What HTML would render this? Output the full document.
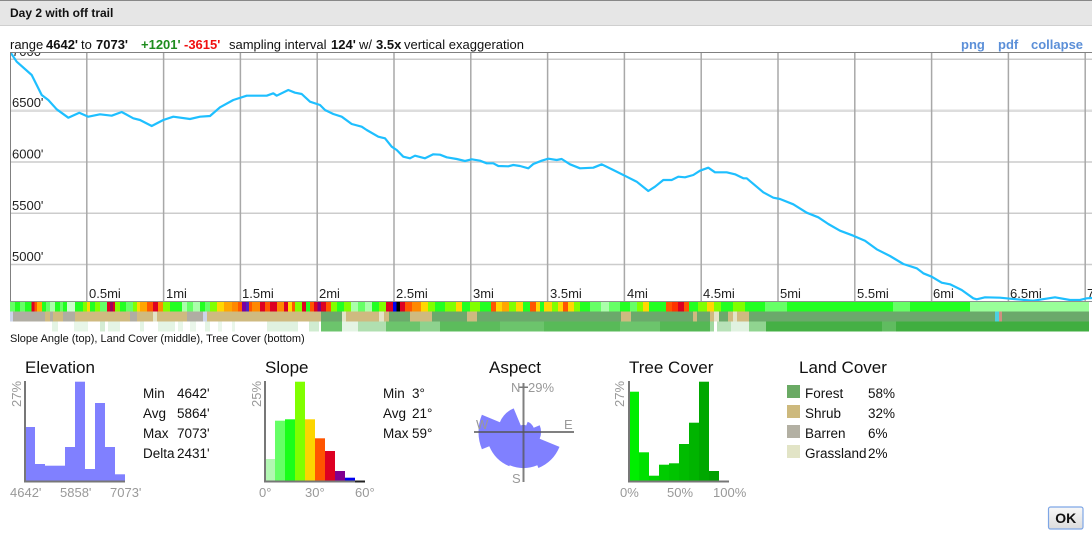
<!DOCTYPE html>
<html><head><meta charset="utf-8">
<style>
html,body{margin:0;padding:0;background:#fff;}
body{width:1092px;height:538px;overflow:hidden;position:relative;font-family:"Liberation Sans",sans-serif;}
svg{position:absolute;left:0;top:0;}
text{font-family:"Liberation Sans",sans-serif;}
</style></head><body>
<svg width="1092" height="538" viewBox="0 0 1092 538" xmlns="http://www.w3.org/2000/svg">
<defs>
<clipPath id="cc"><rect x="10" y="52" width="1082" height="249.5"/></clipPath>
<linearGradient id="okg" x1="0" y1="0" x2="0" y2="1"><stop offset="0" stop-color="#f8f8f8"/><stop offset="1" stop-color="#dcdcdc"/></linearGradient>
</defs>
<!-- header -->
<rect x="0" y="0" width="1092" height="25" fill="#e6e6e6"/>
<rect x="0" y="0" width="1092" height="1" fill="#888"/>
<rect x="0" y="25" width="1092" height="1" fill="#cfcfcf"/>
<text x="10" y="17" font-size="12" font-weight="bold" fill="#111">Day 2 with off trail</text>

<!-- range line -->
<text y="49" font-size="13" fill="#111">
<tspan x="10">range</tspan><tspan x="46" font-weight="bold">4642'</tspan><tspan x="81">to</tspan><tspan x="96" font-weight="bold">7073'</tspan><tspan x="141" font-weight="bold" fill="#1e8c1e">+1201'</tspan><tspan x="184" font-weight="bold" fill="#f01010">-3615'</tspan><tspan x="229">sampling interval</tspan><tspan x="331" font-weight="bold">124'</tspan><tspan x="359">w/</tspan><tspan x="376" font-weight="bold">3.5x</tspan><tspan x="404">vertical exaggeration</tspan>
</text>
<text y="49" font-size="13" font-weight="bold" fill="#5b8fd8"><tspan x="961">png</tspan><tspan x="998">pdf</tspan><tspan x="1031">collapse</tspan></text>

<!-- chart -->
<g clip-path="url(#cc)">
<g stroke="#cccccc" stroke-width="1.5">
<line x1="10" y1="59.3" x2="1092" y2="59.3"/>
<line x1="10" y1="162" x2="1092" y2="162"/>
<line x1="10" y1="213.3" x2="1092" y2="213.3"/>
<line x1="10" y1="264.5" x2="1092" y2="264.5"/>
</g>
<line x1="10" y1="110.7" x2="1092" y2="110.7" stroke="#dddddd" stroke-width="2.5"/>
<g stroke="#a8a8a8" stroke-width="1.5">
<line x1="86.8" y1="52" x2="86.8" y2="301"/>
<line x1="163.6" y1="52" x2="163.6" y2="301"/>
<line x1="240.4" y1="52" x2="240.4" y2="301"/>
<line x1="317.2" y1="52" x2="317.2" y2="301"/>
<line x1="394" y1="52" x2="394" y2="301"/>
<line x1="470.8" y1="52" x2="470.8" y2="301"/>
<line x1="547.6" y1="52" x2="547.6" y2="301"/>
<line x1="624.4" y1="52" x2="624.4" y2="301"/>
<line x1="701.2" y1="52" x2="701.2" y2="301"/>
<line x1="778" y1="52" x2="778" y2="301"/>
<line x1="854.8" y1="52" x2="854.8" y2="301"/>
<line x1="931.6" y1="52" x2="931.6" y2="301"/>
<line x1="1008.4" y1="52" x2="1008.4" y2="301"/>
<line x1="1085.2" y1="52" x2="1085.2" y2="301"/>
</g>
<g font-size="13" fill="#222">
<text x="12" y="56">7000'</text>
<text x="12" y="107">6500'</text>
<text x="12" y="158.5">6000'</text>
<text x="12" y="210">5500'</text>
<text x="12" y="261">5000'</text>
<text x="89" y="298">0.5mi</text>
<text x="166" y="298">1mi</text>
<text x="242" y="298">1.5mi</text>
<text x="319" y="298">2mi</text>
<text x="396" y="298">2.5mi</text>
<text x="473" y="298">3mi</text>
<text x="550" y="298">3.5mi</text>
<text x="627" y="298">4mi</text>
<text x="703" y="298">4.5mi</text>
<text x="780" y="298">5mi</text>
<text x="857" y="298">5.5mi</text>
<text x="933" y="298">6mi</text>
<text x="1010" y="298">6.5mi</text>
<text x="1087" y="298">7mi</text>
</g>
<polyline fill="none" stroke="#1ebfff" stroke-width="2.2" stroke-linejoin="round" points="10,51.7 16.7,61.7 31.7,75 41.7,95 48.3,100 56.7,109.3 68.3,117.7 79.3,112.7 88.3,116.7 100,114.3 111.7,115.7 121.7,112 133.3,118.3 140,120 151.7,126 163.3,120 173.3,116.7 190,119 200,116.7 210,116 220,107.3 233.3,100 246.7,95.7 266.7,95.7 273.3,93.3 276.7,95.7 288.3,90 295,92.7 301.7,94 310,101.7 320,105 325,110 333.3,114 341.7,116.7 351.7,124 361.7,126.7 366.7,130 378.3,136.7 385,138.3 391.7,146.7 396.7,150 403.3,156.7 410,158.3 415,155.7 425,158.3 433.3,154.3 440,154.7 446.7,157.3 456.7,159 465,161 471.7,159.3 480,160.7 486.7,163.3 493.3,163.3 498.3,166 508.3,166.3 513.3,165 520,166 528.3,168.3 533.3,164 541.7,160.7 548.3,158.7 556.7,160 561.7,159 570,164.3 580,168.3 593.3,167.7 601.7,164.3 613.3,170 626.7,176.7 636.7,181.7 648.3,191 655,186.7 663.3,180 671.7,180 678.3,176.7 685,177.3 693.3,175 700,170.7 708.3,167.7 715,172.3 726.7,172.3 735,174.3 743.3,178.3 746.7,178.3 763.3,192.3 773.3,197.7 780,199 793.3,204.3 806.7,212.7 818.3,217.3 828.3,224 840,230.7 853.3,235.7 865,240.7 876.7,249.3 890,256 903.3,264 916.7,268.3 923.3,273.3 931.7,276.7 941.7,282.7 950,284.3 961.7,290 973.3,298.3 976.7,299.3 985,297.3 1000,297.7 1016.7,299.3 1033.3,300.7 1055,297.3 1070,300 1080,300 1086.7,298.3 1092,298"/>
</g>
<rect x="10" y="52" width="1082" height="1" fill="#808080"/>
<rect x="10" y="52" width="1" height="250" fill="#808080"/>
<rect x="10" y="301" width="1082" height="1" fill="#909090"/>

<!-- slope strip -->
<g transform="translate(0,302)">
<rect x="10" width="5" height="9.5" fill="#66ff66"/><rect x="15" width="5" height="9.5" fill="#22ff22"/><rect x="20" width="5" height="9.5" fill="#66ff66"/><rect x="25" width="6.5" height="9.5" fill="#22ff22"/><rect x="31.5" width="3" height="9.5" fill="#dd0022"/><rect x="34.5" width="2.5" height="9.5" fill="#ff5500"/><rect x="37" width="5" height="9.5" fill="#ffb000"/><rect x="42" width="4" height="9.5" fill="#22ff22"/><rect x="46" width="4" height="9.5" fill="#66ff66"/><rect x="50" width="5" height="9.5" fill="#aaffaa"/><rect x="55" width="5" height="9.5" fill="#22ff22"/><rect x="60" width="3" height="9.5" fill="#66ff66"/><rect x="63" width="4" height="9.5" fill="#22ff22"/><rect x="67" width="8" height="9.5" fill="#ccffcc"/><rect x="75" width="8" height="9.5" fill="#22ff22"/><rect x="83" width="4" height="9.5" fill="#80ff00"/><rect x="87" width="3" height="9.5" fill="#ffd700"/><rect x="90" width="5" height="9.5" fill="#22ff22"/><rect x="95" width="5" height="9.5" fill="#80ff00"/><rect x="100" width="7" height="9.5" fill="#66ff66"/><rect x="107" width="3" height="9.5" fill="#dd0022"/><rect x="110" width="3" height="9.5" fill="#a0005a"/><rect x="113" width="2" height="9.5" fill="#dd0022"/><rect x="115" width="5" height="9.5" fill="#80ff00"/><rect x="120" width="6" height="9.5" fill="#22ff22"/><rect x="126" width="7" height="9.5" fill="#66ff66"/><rect x="133" width="4" height="9.5" fill="#80ff00"/><rect x="137" width="3" height="9.5" fill="#ffd700"/><rect x="140" width="7" height="9.5" fill="#ffa500"/><rect x="147" width="6" height="9.5" fill="#ff5500"/><rect x="153" width="5" height="9.5" fill="#dd0022"/><rect x="158" width="5" height="9.5" fill="#ff8800"/><rect x="163" width="7" height="9.5" fill="#80ff00"/><rect x="170" width="12" height="9.5" fill="#22ff22"/><rect x="182" width="5" height="9.5" fill="#aaffaa"/><rect x="187" width="6" height="9.5" fill="#66ff66"/><rect x="193" width="7" height="9.5" fill="#aaffaa"/><rect x="200" width="5" height="9.5" fill="#22ff22"/><rect x="205" width="5" height="9.5" fill="#66ff66"/><rect x="210" width="7" height="9.5" fill="#80ff00"/><rect x="217" width="7" height="9.5" fill="#ffd700"/><rect x="224" width="8" height="9.5" fill="#ffa500"/><rect x="232" width="6" height="9.5" fill="#ff8800"/><rect x="238" width="4" height="9.5" fill="#ff5500"/><rect x="242" width="4" height="9.5" fill="#7a00a0"/><rect x="246" width="3" height="9.5" fill="#5020c0"/><rect x="249" width="3" height="9.5" fill="#ff5500"/><rect x="252" width="8" height="9.5" fill="#ff8800"/><rect x="260" width="5" height="9.5" fill="#dd0022"/><rect x="265" width="5" height="9.5" fill="#ff5500"/><rect x="270" width="7" height="9.5" fill="#dd0022"/><rect x="277" width="7" height="9.5" fill="#ff8800"/><rect x="284" width="4" height="9.5" fill="#dd0022"/><rect x="288" width="4" height="9.5" fill="#ffd700"/><rect x="292" width="3" height="9.5" fill="#ff5500"/><rect x="295" width="7" height="9.5" fill="#80ff00"/><rect x="302" width="4" height="9.5" fill="#dd0022"/><rect x="306" width="4" height="9.5" fill="#22ff22"/><rect x="310" width="4" height="9.5" fill="#ff5500"/><rect x="314" width="3.5" height="9.5" fill="#dd0022"/><rect x="317.5" width="3.5" height="9.5" fill="#800080"/><rect x="321" width="5" height="9.5" fill="#dd0022"/><rect x="326" width="5" height="9.5" fill="#ff5500"/><rect x="331" width="6" height="9.5" fill="#80ff00"/><rect x="337" width="7" height="9.5" fill="#22ff22"/><rect x="344" width="7" height="9.5" fill="#80ff00"/><rect x="351" width="7" height="9.5" fill="#aaffaa"/><rect x="358" width="7" height="9.5" fill="#66ff66"/><rect x="365" width="7" height="9.5" fill="#aaffaa"/><rect x="372" width="7" height="9.5" fill="#22ff22"/><rect x="379" width="7" height="9.5" fill="#80ff00"/><rect x="386" width="7" height="9.5" fill="#dd0022"/><rect x="393" width="3.5" height="9.5" fill="#0000ee"/><rect x="396.5" width="3.5" height="9.5" fill="#000000"/><rect x="400" width="5" height="9.5" fill="#dd0022"/><rect x="405" width="7" height="9.5" fill="#ff5500"/><rect x="412" width="9" height="9.5" fill="#ff8800"/><rect x="421" width="7" height="9.5" fill="#ffd700"/><rect x="428" width="7" height="9.5" fill="#80ff00"/><rect x="435" width="10" height="9.5" fill="#22ff22"/><rect x="445" width="11" height="9.5" fill="#80ff00"/><rect x="456" width="6" height="9.5" fill="#ffd700"/><rect x="462" width="8" height="9.5" fill="#22ff22"/><rect x="470" width="10" height="9.5" fill="#80ff00"/><rect x="480" width="11" height="9.5" fill="#22ff22"/><rect x="491" width="5" height="9.5" fill="#ff5500"/><rect x="496" width="6" height="9.5" fill="#ffd700"/><rect x="502" width="7" height="9.5" fill="#ffa500"/><rect x="509" width="7" height="9.5" fill="#80ff00"/><rect x="516" width="7" height="9.5" fill="#ffd700"/><rect x="523" width="7" height="9.5" fill="#22ff22"/><rect x="530" width="6" height="9.5" fill="#ff5500"/><rect x="536" width="4" height="9.5" fill="#ffd700"/><rect x="540" width="4" height="9.5" fill="#22ff22"/><rect x="544" width="8" height="9.5" fill="#ffd700"/><rect x="552" width="6" height="9.5" fill="#80ff00"/><rect x="558" width="5" height="9.5" fill="#ffd700"/><rect x="563" width="5" height="9.5" fill="#ff5500"/><rect x="568" width="6" height="9.5" fill="#ffd700"/><rect x="574" width="6" height="9.5" fill="#80ff00"/><rect x="580" width="10" height="9.5" fill="#22ff22"/><rect x="590" width="11" height="9.5" fill="#66ff66"/><rect x="601" width="8" height="9.5" fill="#aaffaa"/><rect x="609" width="11" height="9.5" fill="#66ff66"/><rect x="620" width="10" height="9.5" fill="#22ff22"/><rect x="630" width="7" height="9.5" fill="#66ff66"/><rect x="637" width="6" height="9.5" fill="#80ff00"/><rect x="643" width="6" height="9.5" fill="#ffd700"/><rect x="649" width="17" height="9.5" fill="#22ff22"/><rect x="666" width="6" height="9.5" fill="#ff5500"/><rect x="672" width="6" height="9.5" fill="#ff3300"/><rect x="678" width="6" height="9.5" fill="#dd0022"/><rect x="684" width="5" height="9.5" fill="#ff5500"/><rect x="689" width="9" height="9.5" fill="#22ff22"/><rect x="698" width="9" height="9.5" fill="#80ff00"/><rect x="707" width="7" height="9.5" fill="#ffd700"/><rect x="714" width="7" height="9.5" fill="#80ff00"/><rect x="721" width="12" height="9.5" fill="#22ff22"/><rect x="733" width="12" height="9.5" fill="#80ff00"/><rect x="745" width="20" height="9.5" fill="#22ff22"/><rect x="765" width="22" height="9.5" fill="#66ff66"/><rect x="787" width="106" height="9.5" fill="#22ff22"/><rect x="893" width="17" height="9.5" fill="#66ff66"/><rect x="910" width="60" height="9.5" fill="#22ff22"/><rect x="970" width="119" height="9.5" fill="#99ff99"/>
</g>
<!-- land cover strip -->
<g transform="translate(0,311.5)">
<rect x="10" width="3" height="10" fill="#ccd4ea"/><rect x="13" width="32" height="10" fill="#b0ada3"/><rect x="45" width="5" height="10" fill="#cfba80"/><rect x="50" width="3" height="10" fill="#b0ada3"/><rect x="53" width="10" height="10" fill="#cfba80"/><rect x="63" width="12" height="10" fill="#b0ada3"/><rect x="75" width="55" height="10" fill="#cfba80"/><rect x="130" width="7" height="10" fill="#b0ada3"/><rect x="137" width="16" height="10" fill="#cfba80"/><rect x="153" width="4" height="10" fill="#e3e4c8"/><rect x="157" width="30" height="10" fill="#cfba80"/><rect x="187" width="16" height="10" fill="#b0ada3"/><rect x="203" width="4" height="10" fill="#ccd4ea"/><rect x="207" width="114" height="10" fill="#cfba80"/><rect x="321" width="21" height="10" fill="#6ba96b"/><rect x="342" width="4" height="10" fill="#e3e4c8"/><rect x="346" width="33" height="10" fill="#cfba80"/><rect x="379" width="5" height="10" fill="#e3e4c8"/><rect x="384" width="5" height="10" fill="#cfba80"/><rect x="389" width="21" height="10" fill="#6ba96b"/><rect x="410" width="22" height="10" fill="#cfba80"/><rect x="432" width="35" height="10" fill="#6ba96b"/><rect x="467" width="10" height="10" fill="#cfba80"/><rect x="477" width="144" height="10" fill="#6ba96b"/><rect x="621" width="10" height="10" fill="#cfba80"/><rect x="631" width="62" height="10" fill="#6ba96b"/><rect x="693" width="4" height="10" fill="#cfba80"/><rect x="697" width="13" height="10" fill="#6ba96b"/><rect x="710" width="4" height="10" fill="#cfba80"/><rect x="714" width="5" height="10" fill="#e3e4c8"/><rect x="719" width="9" height="10" fill="#6ba96b"/><rect x="728" width="5" height="10" fill="#cfba80"/><rect x="733" width="4" height="10" fill="#e3e4c8"/><rect x="737" width="12" height="10" fill="#cfba80"/><rect x="749" width="246" height="10" fill="#6ba96b"/><rect x="995" width="4" height="10" fill="#4dd0e1"/><rect x="999" width="3" height="10" fill="#d09080"/><rect x="1002" width="87" height="10" fill="#6ba96b"/>
</g>
<!-- tree cover strip -->
<g transform="translate(0,321.5)">
<rect x="52" width="6" height="10" fill="#e4f4e4"/><rect x="74" width="14" height="10" fill="#e8f6e8"/><rect x="100" width="5" height="10" fill="#d4ecd4"/><rect x="108" width="12" height="10" fill="#e4f4e4"/><rect x="140" width="4" height="10" fill="#e4f4e4"/><rect x="158" width="17" height="10" fill="#e4f4e4"/><rect x="178" width="5" height="10" fill="#e8f6e8"/><rect x="190" width="6" height="10" fill="#eaf6ea"/><rect x="205" width="5" height="10" fill="#e4f4e4"/><rect x="218" width="4" height="10" fill="#eaf6ea"/><rect x="232" width="3" height="10" fill="#eaf6ea"/><rect x="267" width="31" height="10" fill="#e0f2e0"/><rect x="309" width="10" height="10" fill="#d0ecd0"/><rect x="321" width="21" height="10" fill="#6cc46c"/><rect x="342" width="16" height="10" fill="#e4f4e4"/><rect x="358" width="28" height="10" fill="#b0dfb0"/><rect x="386" width="34" height="10" fill="#6cc46c"/><rect x="420" width="20" height="10" fill="#8ed28e"/><rect x="440" width="60" height="10" fill="#5cbc5c"/><rect x="500" width="44" height="10" fill="#6cc46c"/><rect x="544" width="76" height="10" fill="#58ba58"/><rect x="620" width="40" height="10" fill="#6cc46c"/><rect x="660" width="50" height="10" fill="#55b855"/><rect x="710" width="4" height="10" fill="#a0d8a0"/><rect x="717" width="14" height="10" fill="#b8e2b8"/><rect x="731" width="18" height="10" fill="#e0f2e0"/><rect x="749" width="17" height="10" fill="#90d490"/><rect x="766" width="116" height="10" fill="#45b045"/><rect x="882" width="14" height="10" fill="#60bc60"/><rect x="896" width="193" height="10" fill="#40ae40"/>
</g>
<text x="10" y="342" font-size="11" fill="#111">Slope Angle (top), Land Cover (middle), Tree Cover (bottom)</text>

<!-- Elevation histogram -->
<text x="25" y="373" font-size="17" fill="#111">Elevation</text>
<g fill="#8080ff">
<rect x="25" y="427" width="10" height="54"/>
<rect x="35" y="464" width="10" height="17"/>
<rect x="45" y="465.7" width="20" height="15.3"/>
<rect x="65" y="447" width="10" height="34"/>
<rect x="75" y="381.7" width="10" height="99.3"/>
<rect x="85" y="469" width="10" height="12"/>
<rect x="95" y="403" width="10" height="78"/>
<rect x="105" y="447" width="10" height="34"/>
<rect x="115" y="474.3" width="10" height="6.7"/>
</g>
<rect x="24" y="381" width="2" height="101" fill="#777"/>
<rect x="24" y="480.5" width="101" height="2" fill="#777"/>
<text transform="translate(21,407) rotate(-90)" font-size="13" fill="#999">27%</text>
<g font-size="13" fill="#999"><text x="10" y="497">4642'</text><text x="60" y="497">5858'</text><text x="110" y="497">7073'</text></g>
<g font-size="13.5" fill="#111">
<text x="143" y="398">Min</text><text x="177" y="398">4642'</text>
<text x="143" y="418">Avg</text><text x="177" y="418">5864'</text>
<text x="143" y="438">Max</text><text x="177" y="438">7073'</text>
<text x="143" y="458">Delta</text><text x="177" y="458">2431'</text>
</g>

<!-- Slope histogram -->
<text x="265" y="373" font-size="17" fill="#111">Slope</text>
<rect x="265" y="459" width="10" height="22" fill="#b3f7b3"/>
<rect x="275" y="420.7" width="10" height="60.3" fill="#66ff66"/>
<rect x="285" y="419.3" width="10" height="61.7" fill="#1aff1a"/>
<rect x="295" y="381.7" width="10" height="99.3" fill="#80ff00"/>
<rect x="305" y="419.3" width="10" height="61.7" fill="#fcd500"/>
<rect x="315" y="438.3" width="10" height="42.7" fill="#ff5500"/>
<rect x="325" y="451" width="10" height="30" fill="#dd0022"/>
<rect x="335" y="471" width="10" height="10" fill="#800090"/>
<rect x="345" y="477.7" width="10" height="3.3" fill="#0000ee"/>
<rect x="264" y="381" width="2" height="101" fill="#777"/>
<rect x="264" y="480.5" width="101" height="2" fill="#222"/>
<rect x="264" y="480.5" width="91" height="2" fill="#777"/>
<text transform="translate(261,407) rotate(-90)" font-size="13" fill="#999">25%</text>
<g font-size="13" fill="#999"><text x="259" y="497">0°</text><text x="305" y="497">30°</text><text x="355" y="497">60°</text></g>
<g font-size="13.5" fill="#111">
<text x="383" y="398">Min</text><text x="412" y="398">3°</text>
<text x="383" y="418">Avg</text><text x="412" y="418">21°</text>
<text x="383" y="438">Max</text><text x="412" y="438">59°</text>
</g>

<!-- Aspect -->
<text x="489" y="373" font-size="17" fill="#111">Aspect</text>
<path fill="#8080ff" d="M559.5,446.9 A39,39 0 0 1 538.4,468 L537.3,465.3 A36,36 0 0 1 509.7,465.3 L509.3,466.2 A37,37 0 0 1 489.3,446.2 L481.9,449.2 A45,45 0 0 1 481.9,414.8 L499.9,422.2 A25.6,25.6 0 0 1 513.7,408.4 L520.8,425.5 A7,7 0 0 1 526.2,425.5 L527.7,421.8 A11,11 0 0 1 533.7,427.8 L539.7,425.3 A17.5,17.5 0 0 1 539.7,438.7 Z"/>
<rect x="474" y="431" width="100" height="2" fill="#555" opacity="0.75"/>
<rect x="522.5" y="383" width="2" height="99" fill="#555" opacity="0.75"/>
<rect x="519" y="386.5" width="9" height="1.5" fill="#777"/>
<g font-size="13" fill="#999">
<text x="511" y="392">N</text><text x="528" y="392">29%</text>
<text x="476" y="429">W</text><text x="564" y="429">E</text>
<text x="512" y="483">S</text>
</g>

<!-- Tree Cover -->
<text x="629" y="373" font-size="17" fill="#111">Tree Cover</text>
<rect x="629" y="391.7" width="10" height="89.3" fill="#00ee00"/>
<rect x="639" y="452.3" width="10" height="28.7" fill="#00e000"/>
<rect x="649" y="475.7" width="10" height="5.3" fill="#00d400"/>
<rect x="659" y="464.7" width="10" height="16.3" fill="#00cc00"/>
<rect x="669" y="463.3" width="10" height="17.7" fill="#00c400"/>
<rect x="679" y="444" width="10" height="37" fill="#00bc00"/>
<rect x="689" y="422.7" width="10" height="58.3" fill="#00b400"/>
<rect x="699" y="381.7" width="10" height="99.3" fill="#00a800"/>
<rect x="709" y="471" width="10" height="10" fill="#00a000"/>
<rect x="628" y="381" width="2" height="101" fill="#777"/>
<rect x="628" y="480.5" width="101" height="2" fill="#777"/>
<text transform="translate(624,407) rotate(-90)" font-size="13" fill="#999">27%</text>
<g font-size="13" fill="#999"><text x="620" y="497">0%</text><text x="667" y="497">50%</text><text x="713" y="497">100%</text></g>

<!-- Land Cover -->
<text x="799" y="373" font-size="17" fill="#111">Land Cover</text>
<rect x="787" y="385" width="13" height="13" fill="#6aaa64"/>
<rect x="787" y="405" width="13" height="13" fill="#cdb97d"/>
<rect x="787" y="425" width="13" height="13" fill="#b3b0a3"/>
<rect x="787" y="445" width="13" height="13" fill="#e2e4c6"/>
<g font-size="13.5" fill="#111">
<text x="805" y="398">Forest</text><text x="868" y="398">58%</text>
<text x="805" y="418">Shrub</text><text x="868" y="418">32%</text>
<text x="805" y="438">Barren</text><text x="868" y="438">6%</text>
<text x="805" y="458">Grassland</text><text x="868" y="458">2%</text>
</g>

<!-- OK button -->
<rect x="1048.5" y="507" width="34.5" height="22" rx="2" fill="url(#okg)" stroke="#7ea6e6" stroke-width="1.2"/>
<text x="1065.7" y="523" font-size="14" font-weight="bold" fill="#111" text-anchor="middle">OK</text>
</svg>
</body></html>
